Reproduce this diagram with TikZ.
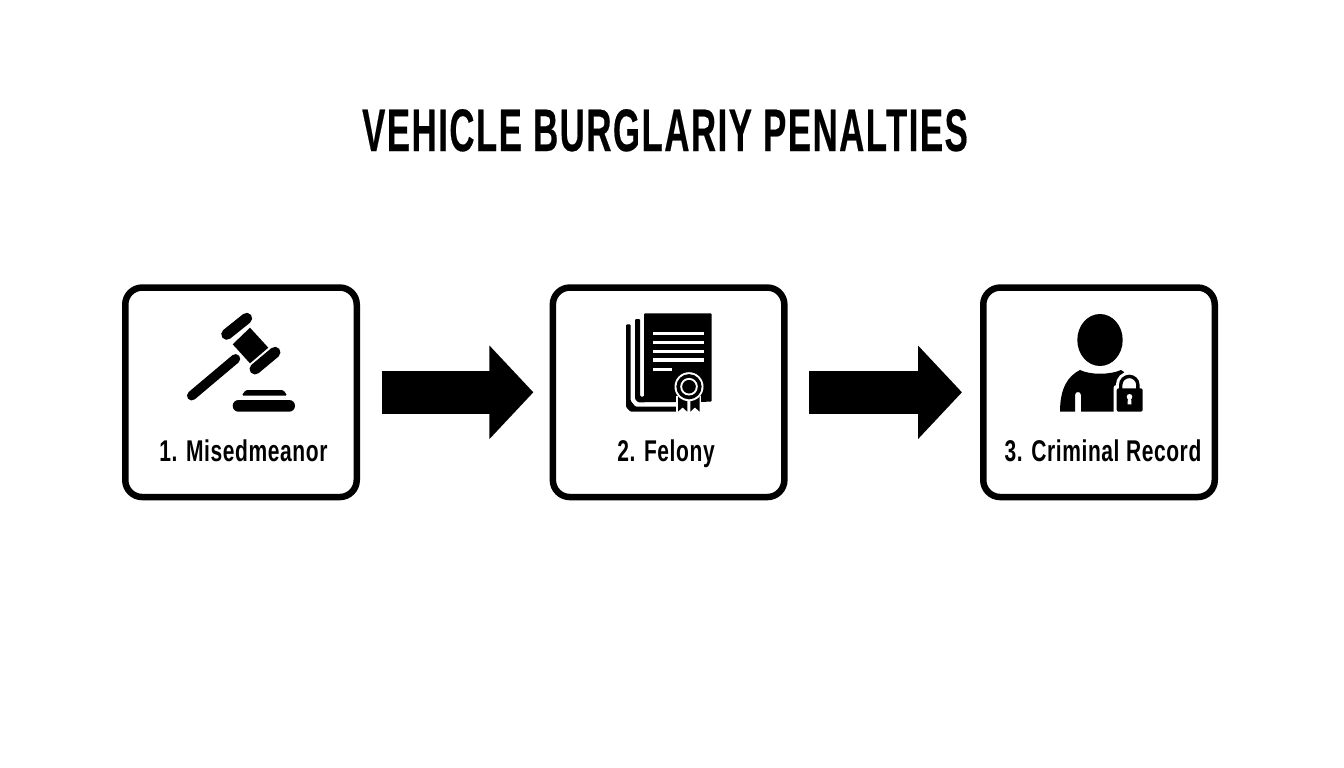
\documentclass[tikz,border=0pt]{standalone}
\usepackage{fontspec}
\usetikzlibrary{arrows.meta}
\newfontfamily\titlefont[FakeStretch=0.58,LetterSpace=2.5,FakeBold=0.3]{Liberation Sans Bold}
\newfontfamily\labelfont[FakeStretch=0.70,LetterSpace=2]{Liberation Sans Bold}
\tikzset{
  stagebox/.style={draw=black,fill=white,line width=6.5pt,rounded corners=17pt,minimum width=231.5pt,minimum height=209.5pt,inner sep=0pt},
  stagelabel/.style={font=\labelfont\fontsize{30}{30}\selectfont,text=black,inner sep=0pt,anchor=base},
  flow/.style={line width=43.4pt,-{Triangle[length=44pt,width=91pt]},black},
}
\begin{document}
\begin{tikzpicture}[x=1pt,y=-1pt]
\useasboundingbox (0,0) rectangle (1344,768);
\fill[white] (0,0) rectangle (1344,768);
\node[font=\titlefont\fontsize{60}{60}\selectfont,inner sep=0pt,anchor=base] (title) at (665,151) {VEHICLE BURGLARIY PENALTIES};
\node[stagebox] (a) at (241,392.3) {};
\node[stagebox] (b) at (668.6,392.3) {};
\node[stagebox] (c) at (1099,392.3) {};
\draw[flow,shorten <=21.7pt,shorten >=16.2pt] (a.east) -- (b.west);
\draw[flow,shorten <=21.6pt,shorten >=18pt] (b.east) -- (c.west);
\node[stagelabel] (la) at (243.5,461) {1. Misedmeanor};
\node[stagelabel] (lb) at (666,461) {2. Felony};
\node[stagelabel] (lc) at (1103,461) {3. Criminal Record};
% gavel
\draw[line width=9.5pt,line cap=round] (191.7,395.7) -- (235.5,358.8);
\fill (232.7,344.3) -- (250,327.7) -- (268.3,347.7) -- (250,363.3) -- cycle;
\draw[line width=11pt,line cap=round] (226.7,334.3) -- (246.7,318.3);
\draw[line width=11pt,line cap=round] (255,369) -- (275,352.3);
\fill[rounded corners=1.5pt] (241.7,395.7) -- (245.7,390) -- (283.3,390) -- (287.3,395.7) -- cycle;
\fill[rounded corners=5.8pt] (232.7,400) rectangle (295,411.7);
% document
\fill[rounded corners=1pt] (644,313.3) -- (711.7,313.3) -- (711.7,401.7) -- (638,402.3) -- (635,399) -- (635,319) -- (640,319) -- (640,396.5) -- (644,396.5) -- cycle;
\fill[rounded corners=1pt] (626,324.3) -- (630.7,324.3) -- (630.7,401) -- (635.5,406.7) -- (677,406.7) -- (677,411.7) -- (630.5,411.7) -- (626,407) -- cycle;
\foreach \yy in {333.5,342.5,351.3,360} \fill[white] (652.7,\yy-1.7) rectangle (703.7,\yy+1.7);
\fill[white] (652.7,369.2-1.7) rectangle (672.3,369.2+1.7);
\fill[white] (676,396) -- (676,413) -- (701,413) -- (701,396) -- cycle;
\fill (678,396) -- (678,411.7) -- (682.5,407.3) -- (687.3,411.7) -- (687.3,396) -- cycle;
\fill (690.3,396) -- (690.3,411.7) -- (695,407.3) -- (699.5,411.7) -- (699.5,396) -- cycle;
\fill[white] (689,386.7) circle (14.5);
\fill (689,386.7) circle (12.6);
\fill[white] (689,386.7) circle (8.8);
\fill (689,386.7) circle (6.8);
% person
\fill (1100,340) ellipse (22.7 and 26);
\fill (1060,411.7) .. controls (1060,388) and (1068,376) .. (1080,370) .. controls (1090,375) and (1110,375) .. (1121,370) -- (1124,372) -- (1124,411.7) -- (1081,411.7) -- (1081,395) .. controls (1081,391) and (1075,391) .. (1075,395) -- (1075,411.7) -- cycle;
\fill[white,rounded corners=3pt] (1113.5,385) rectangle (1146,416);
\draw[white,line width=9.5pt] (1120.7,390) -- (1120.7,385) arc[start angle=180,end angle=360,radius=8.6] -- (1137.9,390);
\fill[rounded corners=2pt] (1116.7,388.3) rectangle (1142.7,411.7);
\draw[line width=3.4pt] (1120.7,390) -- (1120.7,385) arc[start angle=180,end angle=360,radius=8.6] -- (1137.9,390);
\fill[white] (1129.5,396.8) circle (2.8);
\fill[white] (1128,397) -- (1131,397) -- (1131.5,404.3) -- (1127.5,404.3) -- cycle;
\end{tikzpicture}
\end{document}
